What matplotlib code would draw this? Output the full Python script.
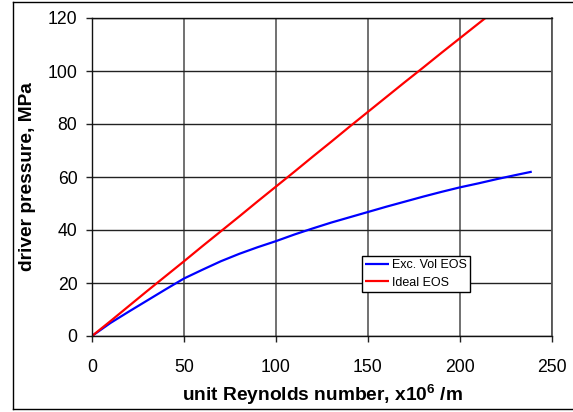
import matplotlib
matplotlib.use("Agg")
import matplotlib.pyplot as plt
from matplotlib.lines import Line2D

plt.rcParams["font.family"] = ["Liberation Sans", "DejaVu Sans"]
plt.rcParams["mathtext.fontset"] = "custom"
plt.rcParams["mathtext.rm"] = "Liberation Sans:bold"
plt.rcParams["mathtext.default"] = "rm"

# Excluded-volume equation of state
re_excl = [0, 10, 20, 30, 40, 50, 60, 70, 80, 90, 100, 110, 120, 130, 140,
           150, 160, 170, 180, 190, 200, 210, 220, 230, 239]
p_excl = [0, 4.9, 9.2, 13.4, 17.6, 21.7, 25.0, 28.2, 31.0, 33.5, 35.8, 38.3,
          40.6, 42.8, 44.8, 46.8, 48.8, 50.7, 52.6, 54.4, 56.1, 57.6, 59.2,
          60.7, 62.0]

# Ideal-gas equation of state
re_ideal = [0, 10, 20, 30, 40, 50, 60, 70, 80, 90, 100, 110, 120, 130, 140,
            150, 160, 170, 180, 190, 200, 210, 220]
p_ideal = [0, 5.6, 11.3, 17.0, 22.6, 28.2, 33.9, 39.5, 45.1, 50.8, 56.4, 62.0,
           67.7, 73.3, 79.0, 84.6, 90.2, 95.8, 101.3, 106.9, 112.4, 117.9, 123.4]

x_ticks = [0, 50, 100, 150, 200, 250]
y_ticks = [0, 20, 40, 60, 80, 100, 120]

W, H = 573, 412
fig = plt.figure(figsize=(W / 100, H / 100), dpi=100)
ax = fig.add_axes([92 / W, 1 - 336 / H, (552 - 92) / W, (336 - 18) / H])

ax.plot(re_excl, p_excl, color="#0000ff", lw=1.6, label="Exc. Vol EOS",
        solid_capstyle="butt")
ax.plot(re_ideal, p_ideal, color="#ff0000", lw=1.6, label="Ideal EOS",
        solid_capstyle="butt")

ax.set_xlim(0, 250)
ax.set_ylim(0, 120)
ax.set_xticks(x_ticks)
ax.set_yticks(y_ticks)
ax.tick_params(axis="both", direction="out", length=4.5, width=1,
               labelsize=12.7, color="#222222")
ax.tick_params(axis="y", pad=6)
ax.tick_params(axis="x", pad=12)

ax.set_axisbelow(True)
ax.xaxis.grid(True, color="#666666", lw=1.3)
ax.yaxis.grid(True, color="#222222", lw=1.0)
for side in ("left", "bottom", "top"):
    ax.spines[side].set_color("#111111")
    ax.spines[side].set_linewidth(1.0)
ax.spines["right"].set_color("#555555")
ax.spines["right"].set_linewidth(1.3)

ax.set_xlabel(r"unit Reynolds number, x10$^{6}$ /m", fontsize=13.8,
              fontweight="bold", labelpad=5)
ax.set_ylabel("driver pressure, MPa", fontsize=13.8, fontweight="bold",
              labelpad=8)

leg = ax.legend(loc="upper left", bbox_to_anchor=((362 - 92) / 460, (336 - 256) / 318),
                fontsize=9, frameon=True, fancybox=False, shadow=False,
                borderpad=0.25, handlelength=1.9, handletextpad=0.25,
                labelspacing=0.45, borderaxespad=0)
leg.get_frame().set_edgecolor("black")
leg.get_frame().set_linewidth(1.0)
leg.get_frame().set_alpha(1)

# frame around the whole figure
fig.add_artist(Line2D([13 / W, 13 / W], [1 - 409 / H, 1 - 2 / H], color="black", lw=1))
fig.add_artist(Line2D([13 / W, 1.0], [1 - 2 / H, 1 - 2 / H], color="black", lw=1))
fig.add_artist(Line2D([13 / W, 1.0], [1 - 409 / H, 1 - 409 / H], color="black", lw=1))

fig.savefig("out.png", dpi=100)
